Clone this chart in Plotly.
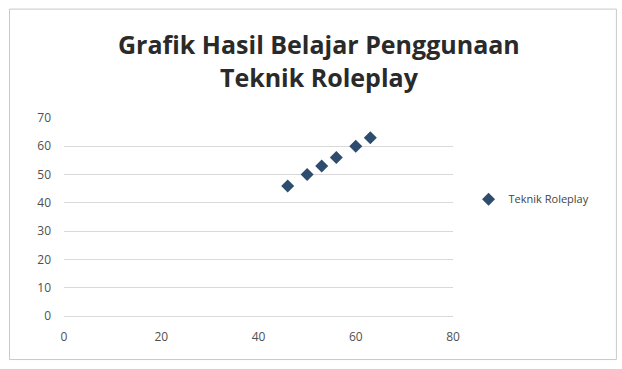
import plotly.graph_objects as go

x_vals = [46, 50, 53, 56, 60, 63]
y_vals = [46, 50, 53, 56, 60, 63]
series_name = "Teknik Roleplay"
title_text = "Grafik Hasil Belajar Penggunaan<br>Teknik Roleplay"

fig = go.Figure()
fig.add_trace(go.Scatter(
    x=x_vals, y=y_vals, mode="markers", name=series_name,
    marker=dict(symbol="diamond", size=10, color="#2E4D6E"),
))

fig.update_layout(
    width=622, height=369,
    margin=dict(l=64, r=169, t=118, b=53),
    paper_bgcolor="white", plot_bgcolor="white",
    font=dict(family="Open Sans, Liberation Sans, sans-serif", color="#444444", size=11),
    showlegend=True,
    legend=dict(x=1.04, y=0.59, xanchor="left", yanchor="middle",
                font=dict(size=11, color="#444444"), bgcolor="rgba(0,0,0,0)",
                itemwidth=30),
    xaxis=dict(range=[0, 80], dtick=20, showgrid=False, zeroline=False,
               showline=False, ticks="", ticklabelstandoff=12,
               tickfont=dict(size=12, color="#505050")),
    yaxis=dict(range=[0, 70], dtick=10, showgrid=True, gridcolor="#D9D9D9",
               zeroline=True, zerolinecolor="#D9D9D9", zerolinewidth=1,
               showline=False, ticks="", ticklabelstandoff=12,
               tickfont=dict(size=12, color="#505050")),
    annotations=[dict(text=title_text, xref="paper", yref="paper",
                      x=0.655, y=1.47, xanchor="center", yanchor="top",
                      showarrow=False, align="center",
                      font=dict(size=25, color="#2a2a2a",
                                family="Open Sans, sans-serif", weight="bold"))],
    shapes=[dict(type="rect", xref="paper", yref="paper",
                 x0=-0.14, x1=1.42, y0=-0.22, y1=1.55,
                 line=dict(color="#C8C8C8", width=1))],
)

fig.write_html("out.html")
